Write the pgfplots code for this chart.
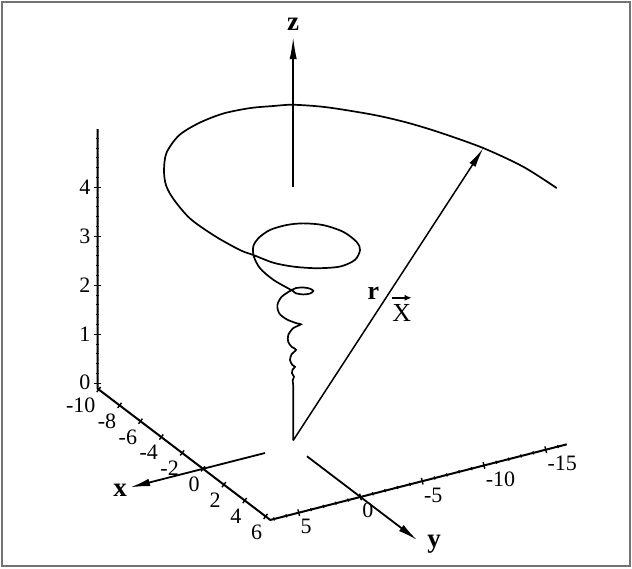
\documentclass[border=0pt]{standalone}
\usepackage{pgfplots}
\usepackage{pgfplotstable}
\pgfplotsset{compat=1.18}
\usepackage{fontspec}
\setmainfont{Liberation Serif}
\usetikzlibrary{arrows.meta}

% trajectory: x y z
\pgfplotstableread{
x y z
0 0 0
0 0 1.03
0 0 1.13
-0.01 0.03 1.23
0.02 -0.05 1.30
-0.03 0.07 1.37
-0.01 0.03 1.45
0.04 -0.11 1.50
-0.02 0.05 1.54
-0.08 0.19 1.64
-0.04 0.09 1.76
0.07 -0.17 1.85
-0.04 0.09 1.91
-0.12 0.30 2.01
-0.12 0.30 2.15
0 0 2.29
0.19 -0.47 2.37
0.08 -0.21 2.39
-0.16 0.39 2.47
-0.33 0.84 2.59
-0.38 0.96 2.76
-0.28 0.70 2.93
-0.04 0.09 3.07
-0.07 -0.29 3.08
0.10 -0.73 3.09
0.39 -0.99 3.10
0.76 -0.99 3.11
0.97 -0.54 3.12
0.94 -0.02 3.13
0.70 0.37 3.14
0.36 0.43 3.15
-0.84 0.90 3.20
-2.07 0.94 3.24
-3.13 0.54 3.28
-3.90 -0.06 3.32
-4.38 -0.87 3.36
-4.70 -2.09 3.40
-4.58 -3.34 3.44
-4.15 -4.32 3.48
-3.32 -5.24 3.52
-2.01 -5.76 3.56
-0.56 -5.61 3.60
0.50 -4.99 3.65
1.51 -3.73 3.69
1.97 -2.13 3.73
1.75 -0.43 3.77
1.22 1.02 3.81
0.55 2.08 3.85
-0.47 2.83 3.89
-1.07 3.40 3.93
-2.62 4.12 4.01
-4.42 4.62 4.11
-6.08 4.57 4.24
-6.92 4.46 4.38
-7.72 3.94 4.52
-8.51 3.07 4.69
-9.39 1.32 4.79
-9.80 -0.65 4.85
-9.74 -2.56 4.93
-9.24 -4.30 5.01
-8.55 -5.61 5.08
-7.91 -6.69 5.14
-6.73 -8.40 5.17
-4.90 -10.62 5.17
-3.37 -12.03 5.17
-1.61 -13.25 5.17
0.90 -14.64 5.17
3.63 -15.57 5.17
6.44 -15.90 5.17
}\trajectory

\newcommand{\tickfont}{\fontsize{11}{12}\selectfont}
\newcommand{\axfont}{\bfseries\fontsize{13.5}{15}\selectfont}

\begin{document}
\begin{tikzpicture}
\begin{axis}[
  x={(5.215pt,-3.965pt)}, y={(-6.175pt,-1.575pt)}, z={(0pt,24.5pt)},
  xmin=-10.1, xmax=6.45, ymin=-16.7, ymax=7.3, zmin=-0.11, zmax=5.19,
  hide axis, clip=false,
]
\coordinate (F) at (axis cs:0,0,-0.11);

% frame axes: z edge, x edge, y edge
\addplot3[line width=1pt, mark=none] coordinates {
  (-10.1,7.3,5.19) (-10.1,7.3,-0.11) (6.45,7.3,-0.11) (6.45,-16.7,-0.11)};

% tick marks
\addplot3[only marks, mark=|, mark size=1.6pt, mark options={rotate=-37.25, line width=0.7pt}]
  coordinates {(-10,7.3,-0.11) (-8,7.3,-0.11) (-6,7.3,-0.11) (-4,7.3,-0.11) (-2,7.3,-0.11)
               (0,7.3,-0.11) (2,7.3,-0.11) (4,7.3,-0.11) (6,7.3,-0.11)};
\addplot3[only marks, mark=|, mark size=1.7pt, mark options={rotate=14.3, line width=0.7pt}]
  coordinates {(6.45,5,-0.11) (6.45,0,-0.11) (6.45,-5,-0.11) (6.45,-10,-0.11) (6.45,-15,-0.11)};
\addplot3[only marks, mark=|, mark size=0.8pt, mark options={rotate=14.3, line width=0.6pt}]
  coordinates {(6.45,7,-0.11) (6.45,6,-0.11) (6.45,4,-0.11) (6.45,3,-0.11) (6.45,2,-0.11) (6.45,1,-0.11)
               (6.45,-1,-0.11) (6.45,-2,-0.11) (6.45,-3,-0.11) (6.45,-4,-0.11)
               (6.45,-6,-0.11) (6.45,-7,-0.11) (6.45,-8,-0.11) (6.45,-9,-0.11)
               (6.45,-11,-0.11) (6.45,-12,-0.11) (6.45,-13,-0.11) (6.45,-14,-0.11)
               (6.45,-16,-0.11)};
\addplot3[only marks, mark=-, mark size=1.8pt, mark options={line width=0.7pt}]
  coordinates {(-10.1,7.3,0) (-10.1,7.3,1) (-10.1,7.3,2) (-10.1,7.3,3) (-10.1,7.3,4)};
\addplot3[only marks, mark=-, mark size=0.8pt, mark options={line width=0.5pt}]
  coordinates {(-10.1,7.3,0.2) (-10.1,7.3,0.4) (-10.1,7.3,0.6) (-10.1,7.3,0.8)
               (-10.1,7.3,1.2) (-10.1,7.3,1.4) (-10.1,7.3,1.6) (-10.1,7.3,1.8)
               (-10.1,7.3,2.2) (-10.1,7.3,2.4) (-10.1,7.3,2.6) (-10.1,7.3,2.8)
               (-10.1,7.3,3.2) (-10.1,7.3,3.4) (-10.1,7.3,3.6) (-10.1,7.3,3.8)
               (-10.1,7.3,4.2) (-10.1,7.3,4.4) (-10.1,7.3,4.6) (-10.1,7.3,4.8) (-10.1,7.3,5.0)};

% tick labels
\begin{scope}[every node/.style={font=\tickfont, inner sep=0pt}]
\node[anchor=north east, xshift=-1.5pt, yshift=-4pt] at (axis cs:-10,7.3,-0.11) {-10};
\node[anchor=north east, xshift=-1.5pt, yshift=-4pt] at (axis cs:-8,7.3,-0.11) {-8};
\node[anchor=north east, xshift=-1.5pt, yshift=-4pt] at (axis cs:-6,7.3,-0.11) {-6};
\node[anchor=north east, xshift=-1.5pt, yshift=-4pt] at (axis cs:-4,7.3,-0.11) {-4};
\node[anchor=north east, xshift=-1.5pt, yshift=-4pt] at (axis cs:-2,7.3,-0.11) {-2};
\node[anchor=north east, xshift=-1.5pt, yshift=-4pt] at (axis cs:0,7.3,-0.11) {0};
\node[anchor=north east, xshift=-1.5pt, yshift=-4pt] at (axis cs:2,7.3,-0.11) {2};
\node[anchor=north east, xshift=-1.5pt, yshift=-4pt] at (axis cs:4,7.3,-0.11) {4};
\node[anchor=north east, xshift=-1.5pt, yshift=-4pt] at (axis cs:6,7.3,-0.11) {6};
\node[anchor=north west, xshift=0.75pt, yshift=-3pt] at (axis cs:6.45,5,-0.11) {5};
\node[anchor=north west, xshift=0.75pt, yshift=-3pt] at (axis cs:6.45,0,-0.11) {0};
\node[anchor=north west, xshift=0.75pt, yshift=-3pt] at (axis cs:6.45,-5,-0.11) {-5};
\node[anchor=north west, xshift=0.75pt, yshift=-3pt] at (axis cs:6.45,-10,-0.11) {-10};
\node[anchor=north west, xshift=0.75pt, yshift=-3pt] at (axis cs:6.45,-15,-0.11) {-15};
\node[anchor=east, xshift=-3.4pt, yshift=0.5pt] at (axis cs:-10.1,7.3,0) {0};
\node[anchor=east, xshift=-3.4pt] at (axis cs:-10.1,7.3,1) {1};
\node[anchor=east, xshift=-3.4pt] at (axis cs:-10.1,7.3,2) {2};
\node[anchor=east, xshift=-3.4pt] at (axis cs:-10.1,7.3,3) {3};
\node[anchor=east, xshift=-3.4pt] at (axis cs:-10.1,7.3,4) {4};
\end{scope}

% trajectory
\addplot3[smooth, line width=0.85pt, mark=none] table {\trajectory};

% position vector to a point of the trajectory
\addplot3[-{Latex[length=10pt,width=3.6pt]}, line width=0.75pt, mark=none]
  coordinates {(0,0,0) (0.90,-14.64,5.17)};

% coordinate axes
\addplot3[-{Latex[length=10pt,width=3.8pt]}, line width=0.9pt, mark=none]
  coordinates {(0,2.28,-0.11) (0,13.21,-0.11)};
\addplot3[-{Latex[length=10pt,width=3.8pt]}, line width=0.9pt, mark=none]
  coordinates {(1.32,0,-0.11) (11.9,0,-0.11)};
\addplot3[-{Latex[length=11pt,width=3.6pt]}, line width=0.75pt, mark=none]
  coordinates {(0,0,5.17) (0,0,8.23)};

\node[font=\axfont] at (axis cs:0,14.02,-0.11) {x};
\node[font=\axfont, yshift=4.5pt] at (axis cs:13.5,0,-0.11) {y};
\node[font=\axfont] at (axis cs:0,0,8.49) {z};
\node[font=\bfseries\fontsize{13}{14}\selectfont, inner sep=0pt, xshift=-7.5pt, yshift=0.5pt]
  at (axis cs:0.45,-7.32,2.58) {r};
\node[font=\fontsize{13}{14}\selectfont, inner sep=0pt, xshift=6.7pt, yshift=-9.3pt]
  (vecX) at (axis cs:0.45,-7.32,2.58) {X};
% vector accent over X
\draw[-{Latex[length=3.5pt,width=3pt]}, line width=0.8pt]
  ([xshift=-5pt, yshift=3.2pt]vecX.north) -- ([xshift=5pt, yshift=3.2pt]vecX.north);
\end{axis}
\pgfresetboundingbox
\path[use as bounding box] ([shift={(-146.6pt,-61.1pt)}]F) rectangle ([shift={(169.4pt,222.9pt)}]F);
\draw[black!55, line width=1pt] ([shift={(-145.35pt,-59.85pt)}]F) rectangle ([shift={(168.15pt,221.65pt)}]F);
\end{tikzpicture}
\end{document}
